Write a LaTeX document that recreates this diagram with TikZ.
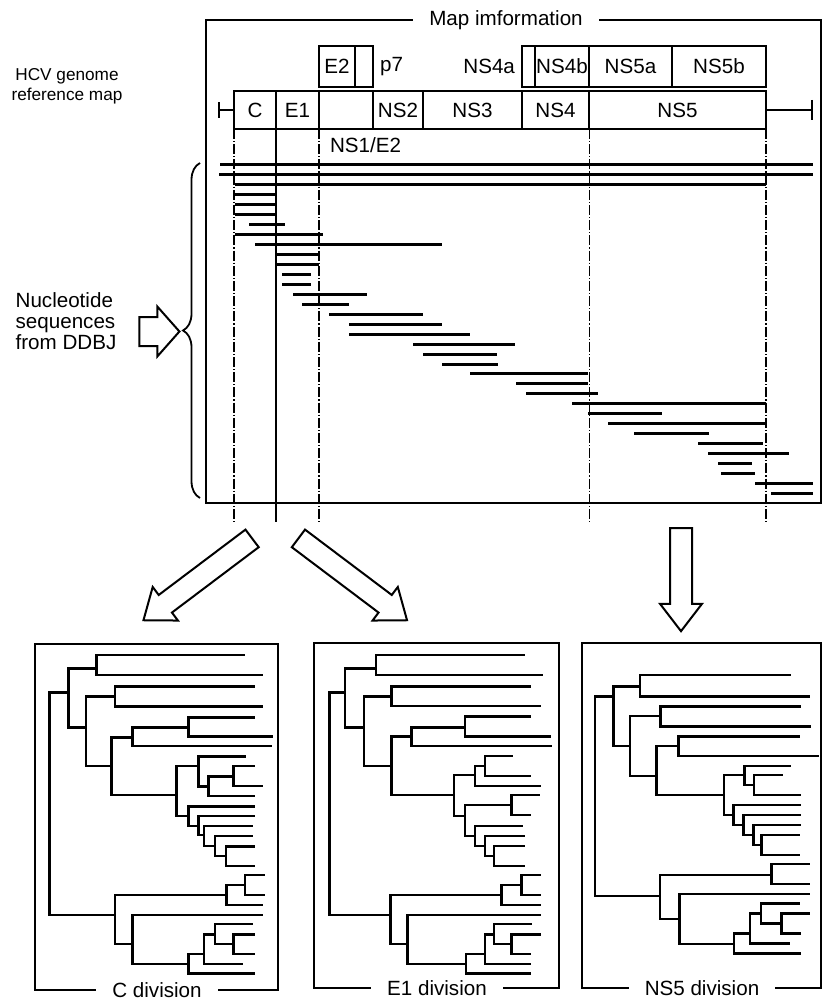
\documentclass[tikz,border=0pt]{standalone}
\usepackage{fontspec}
\setmainfont{Liberation Sans}
\usetikzlibrary{positioning,shapes.arrows,decorations.pathreplacing,arrows.meta}

\begin{document}
\begin{tikzpicture}[x=0.5pt,y=-0.5pt,font=\fontsize{10.3}{10.6}\selectfont,
  seg/.style={draw,line width=1.3pt,minimum height=19pt,inner sep=0pt,outer sep=0pt},
  useg/.style={seg,minimum height=20.5pt},
  guide/.style={line width=0.6pt,dash pattern=on 5pt off 1pt on 0.6pt off 1pt},
  seq/.style={line width=1.5pt},
  branch/.style={line width=1.35pt,line cap=rect},
  panel/.style={line width=1pt},
  caption/.style={fill=white,inner xsep=8pt,inner ysep=1pt},
  fat/.style={single arrow,draw,line width=1pt,inner xsep=0pt,inner ysep=5pt,minimum width=20pt,
    single arrow head extend=5pt,single arrow tip angle=75}]
\useasboundingbox (0,0) rectangle (824,1000);

% genome reference map
\node[seg,minimum width=21pt] (C) at (255,110) {C};
\node[seg,minimum width=21.5pt,right=0pt of C] (E1) {E1};
\node[seg,minimum width=27pt,right=0pt of E1] (NS1) {};
\node[seg,minimum width=25pt,right=0pt of NS1] (NS2) {NS2};
\node[seg,minimum width=49.5pt,right=0pt of NS2] (NS3) {NS3};
\node[seg,minimum width=33.5pt,right=0pt of NS3] (NS4) {NS4};
\node[seg,minimum width=88.5pt,right=0pt of NS4] (NS5) {NS5};
\node[useg,minimum width=18pt,above right=2pt and 0pt of NS1.north west] (E2) {E2};
\node[useg,minimum width=9pt,right=0pt of E2] (p7) {};
\node[useg,minimum width=6.5pt,above right=2pt and 0pt of NS4.north west] (NS4a) {};
\node[useg,minimum width=27pt,right=0pt of NS4a] (NS4b) {NS4b};
\node[useg,minimum width=41.5pt,right=0pt of NS4b] (NS5a) {NS5a};
\node[useg,minimum width=47pt,right=0pt of NS5a] (NS5b) {NS5b};
\node[right=0pt of p7] (p7lbl) {p7};
\node[left=0pt of NS4a] (NS4albl) {NS4a};
\node[below right=1pt and 2pt of NS1.south west] (NS1lbl) {NS1/E2};
\draw[line width=1pt,-{Bar[width=8pt,line width=1pt]}] (C.west) -- ++(-16,0);
\draw[line width=1pt,-{Bar[width=10pt,line width=1pt]}] (NS5.east) -- ++(47,0);

% division guides
\draw[guide] (C.south west) -- ++(0,393);
\draw[line width=1pt] (C.south east) -- ++(0,393);
\draw[guide] (E1.south east) -- ++(0,393);
\draw[guide,line width=0.5pt] (NS4.south east) -- ++(0,393);
\draw[guide,line width=0.9pt] (NS5.south east) -- ++(0,393);

\draw[panel] (206,20) rectangle (821,503);
\node[caption] (maptitle) at (506,20) {Map imformation};
\node[align=center,font=\fontsize{8.6}{10.2}\selectfont] (hcv) at (67,86) {HCV genome\\reference map};

% sequences
\foreach \xa/\xb [count=\i] in {220/813,219/813,235/766,235/276,235/276,235/276,249/285,
  235/323,255/442,276/319,276/319,282/311,282/311,293/367,302/349,329/423,349/442,
  349/470,413/515,423/497,442/498,470/588,516/588,526/598,572/766,588/662,608/766,
  634/709,698/763,708/789,718/752,721/755,755/813,771/813}
  \draw[seq] (\xa,{165+9.95*(\i-1)}) -- (\xb,{165+9.95*(\i-1)});
\node[align=left] (nuc) at (66,321) {Nucleotide\\sequences\\from DDBJ};
\node[fat,minimum height=20pt,minimum width=24pt,inner ysep=6.75pt,single arrow head extend=5.25pt,
  single arrow tip angle=97] (inarrow) at (153,331.5) {};
\draw[line width=0.9pt,decorate,decoration={brace,amplitude=8.5pt}] (200,498) -- (200,163);

% arrows to the trees
\node[fat,minimum height=68pt,rotate=-143] (toC) at (203.5,575) {};
\node[fat,minimum height=68pt,rotate=-37] (toE1) at (347,575) {};
\node[fat,minimum height=51.5pt,rotate=-90] (toNS5) at (681,572.5) {};

% trees
\draw[panel] (35,644) rectangle (278,990);
\node[caption] (Cdiv) at (157,990) {C division};
\begin{scope}[shift={(0,640)},scale=1/3]
\foreach \px/\py/\cx/\cy in {148/490/205/158, 148/490/345/825, 205/158/290/85, 205/158/258/262,
  290/85/730/45, 290/85/785/105, 258/262/345/170, 258/262/335/378, 345/170/760/140,
  345/170/785/200, 335/378/398/292, 335/378/530/465, 398/292/565/262, 398/292/812/318,
  565/262/760/232, 565/262/815/290, 530/465/595/378, 530/465/565/528, 595/378/735/350,
  595/378/625/440, 625/440/700/410, 625/440/760/468, 700/410/760/378, 700/410/785/438,
  565/528/760/500, 565/528/595/558, 595/558/760/528, 595/558/612/585, 612/585/755/558,
  612/585/645/618, 645/618/755/588, 645/618/678/648, 678/648/760/620, 678/648/760/678,
  345/825/680/765, 345/825/398/912, 680/765/735/735, 680/765/785/795, 735/735/790/705,
  735/735/790/765, 398/912/785/825, 398/912/565/972, 565/972/612/942, 565/972/760/1000,
  612/942/645/883, 612/942/725/972, 645/883/755/852, 645/883/700/912, 700/912/760/883,
  700/912/760/942}
  \draw[branch] (\px,\py) |- (\cx,\cy);
\end{scope}

\draw[panel] (314,643) rectangle (559,988);
\node[caption] (E1div) at (437,988) {E1 division};
\begin{scope}[shift={(290,640)},scale=1/3]
\foreach \px/\py/\cx/\cy in {118/490/165/158, 118/490/302/825, 165/158/258/85, 165/158/222/262,
  258/85/700/45, 258/85/755/105, 222/262/305/170, 222/262/305/378, 305/170/720/140,
  305/170/750/198, 305/378/365/290, 305/378/492/465, 365/290/525/262, 365/290/782/318,
  525/262/720/230, 525/262/778/290, 492/465/555/405, 492/465/525/528, 555/405/585/378,
  555/405/748/438, 585/378/665/348, 585/378/720/408, 525/528/665/495, 525/528/555/588,
  665/495/745/465, 665/495/720/525, 555/588/695/558, 555/588/585/618, 585/618/700/588,
  585/618/612/648, 612/648/700/618, 612/648/700/678, 302/825/635/765, 302/825/352/912,
  635/765/695/735, 635/765/748/795, 695/735/750/705, 695/735/750/765, 352/912/748/825,
  352/912/528/972, 528/972/585/942, 528/972/720/1000, 585/942/612/883, 585/942/720/972,
  612/883/722/852, 612/883/665/912, 665/912/748/883, 665/912/720/942}
  \draw[branch] (\px,\py) |- (\cx,\cy);
\end{scope}

\draw[panel] (582,643) rectangle (821,988);
\node[caption] (NS5div) at (702,988) {NS5 division};
\begin{scope}[shift={(560,640)},scale=1/3]
\foreach \px/\py/\cx/\cy in {105/470/160/170, 105/470/300/768, 160/170/240/140, 160/170/210/318,
  240/140/690/105, 240/140/745/170, 210/318/302/228, 210/318/290/408, 302/228/720/200,
  302/228/748/260, 290/408/355/318, 290/408/492/465, 355/318/715/290, 355/318/772/348,
  492/465/553/405, 492/465/520/525, 553/405/690/378, 553/405/582/435, 582/435/665/405,
  582/435/720/465, 520/525/718/495, 520/525/550/555, 550/555/718/525, 550/555/580/585,
  580/585/718/555, 580/585/605/615, 605/615/715/585, 605/615/715/645, 300/768/635/705,
  300/768/358/837, 635/705/745/672, 635/705/745/732, 358/837/745/762, 358/837/522/912,
  522/912/570/880, 522/912/720/940, 570/880/603/820, 570/880/685/910, 603/820/715/790,
  603/820/665/850, 665/850/745/820, 665/850/718/880}
  \draw[branch] (\px,\py) |- (\cx,\cy);
\end{scope}
\end{tikzpicture}
\end{document}
